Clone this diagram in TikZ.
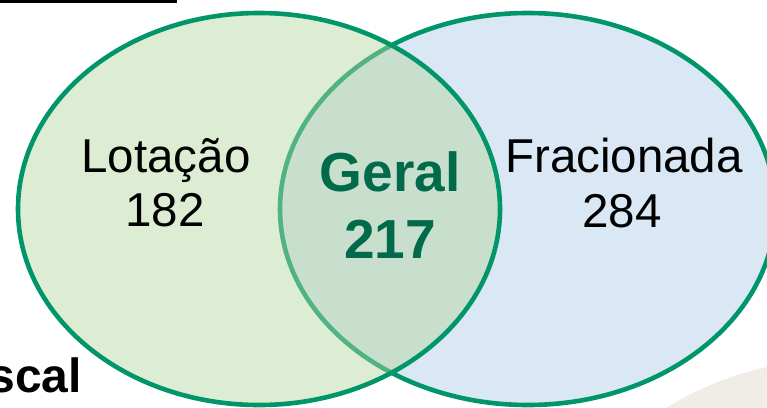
\documentclass[tikz,border=0pt]{standalone}
\usepackage{fontspec}
\setmainfont{Liberation Sans}
\definecolor{ringgreen}{RGB}{0,150,105}
\definecolor{leftfill}{RGB}{180,215,160}
\definecolor{rightfill}{RGB}{218,231,244}
\definecolor{textgreen}{RGB}{0,106,74}
\definecolor{beige}{RGB}{240,237,230}
\tikzset{
  ring/.style={draw=ringgreen, line width=4.6pt},
  plainlabel/.style={anchor=base, inner sep=0pt, font=\fontsize{47.5}{54}\selectfont, text=black},
  boldlabel/.style={anchor=base, inner sep=0pt, font=\fontsize{55}{62}\selectfont\bfseries, text=textgreen}
}
\begin{document}
\begin{tikzpicture}[x=1pt,y=-1pt]
\useasboundingbox (0,0) rectangle (767,407);
\begin{scope}
\clip (0,0) rectangle (767,407);
% beige background shape
\fill[beige] (840,693) circle[radius=334];
% top-left bar
\fill[black] (0,0) rectangle (177,3);
% right set
\path[ring, fill=rightfill] (527.7,209) ellipse[x radius=247.7, y radius=196];
% left set, translucent fill over the right one
\path[fill=leftfill, fill opacity=0.45] (259,209) ellipse[x radius=241, y radius=196];
\path[ring] (259,209) ellipse[x radius=241, y radius=196];
\end{scope}
% labels
\node[plainlabel] (lot) at (166,172) {Lotação};
\node[plainlabel] (lotn) at (165,226) {182};
\node[boldlabel] (ger) at (390,191) {Geral};
\node[boldlabel] (gern) at (390,258) {217};
\node[plainlabel] (fra) at (624,172) {Fracionada};
\node[plainlabel] (fran) at (622,227) {284};
\node[anchor=base east, inner sep=0pt, font=\fontsize{48}{56}\selectfont\bfseries, text=black] (fisc) at (82,392) {scal};
\end{tikzpicture}
\end{document}
